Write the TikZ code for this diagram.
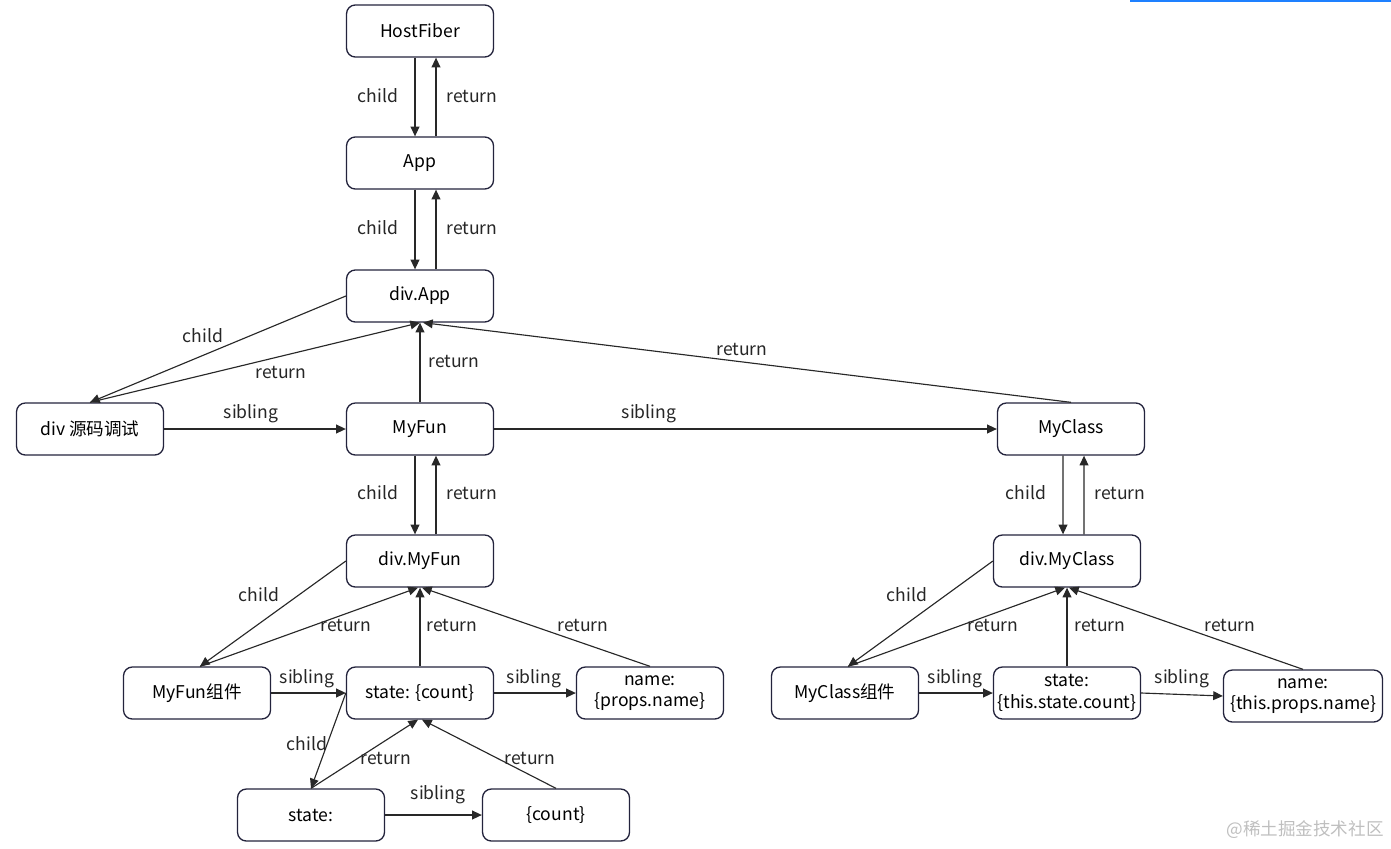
\documentclass[tikz,border=0pt]{standalone}
\usepackage{fontspec}
\setmainfont{Noto Sans CJK SC}
\usetikzlibrary{arrows.meta}
\definecolor{boxline}{RGB}{35,35,60}
\definecolor{edgeline}{RGB}{40,40,40}
\definecolor{topbar}{RGB}{30,128,255}
\tikzset{
  fiber/.style={draw=boxline, line width=0.75pt, rounded corners=5pt, minimum width=2.94cm,
    minimum height=1.04cm, align=center, inner sep=1pt, font=\fontsize{10}{12.3}\selectfont},
  link/.style={draw=edgeline, line width=0.65pt, -{Triangle[length=5.5pt,width=5pt]}},
  lbl/.style={font=\fontsize{10}{12}\selectfont, text=black!85, inner sep=0pt}
}
\begin{document}
\begin{tikzpicture}[x=0.02cm, y=-0.02cm, line join=round]
  \useasboundingbox (0,0) rectangle (1391,848);
  \draw[topbar, line width=1.2pt] (1130,0.5) -- (1391,0.5);

  % fiber nodes
  \node[fiber] (host) at (420,31) {HostFiber};
  \node[fiber] (app) at (420,163) {App};
  \node[fiber] (divapp) at (420,296) {div.App};
  \node[fiber] (divsrc) at (90,429) {div 源码调试};
  \node[fiber] (myfun) at (420,429) {MyFun};
  \node[fiber] (myclass) at (1071,429) {MyClass};
  \node[fiber] (divfun) at (420,561) {div.MyFun};
  \node[fiber] (divclass) at (1067,561) {div.MyClass};
  \node[fiber] (funcomp) at (197,693) {MyFun组件};
  \node[fiber] (funstate) at (420,693) {state: \{count\}};
  \node[fiber] (funname) at (650,693) {name:\\\{props.name\}};
  \node[fiber] (classcomp) at (845,693) {MyClass组件};
  \node[fiber] (classstate) at (1067,693) {state:\\\{this.state.count\}};
  \node[fiber, minimum width=3.18cm] (classname) at (1303,696) {name:\\\{this.props.name\}};
  \node[fiber] (statekey) at (311,815) {state:};
  \node[fiber] (stateval) at (556,815) {\{count\}};

  % child / return pairs
  \draw[link] ([xshift=-0.1cm]host.south) -- ([xshift=-0.1cm]app.north);
  \draw[link] ([xshift=0.32cm]app.north) -- ([xshift=0.32cm]host.south);
  \draw[link] ([xshift=-0.1cm]app.south) -- ([xshift=-0.1cm]divapp.north);
  \draw[link] ([xshift=0.32cm]divapp.north) -- ([xshift=0.32cm]app.south);
  \draw[link] (divapp.west) -- (divsrc.north);
  \draw[link] (divsrc.north) -- (divapp.south);
  \draw[link] (myfun.north) -- (divapp.south);
  \draw[link] (myclass.north) -- ([xshift=0.06cm]divapp.south);
  \draw[link] ([xshift=-0.1cm]myfun.south) -- ([xshift=-0.1cm]divfun.north);
  \draw[link] ([xshift=0.32cm]divfun.north) -- ([xshift=0.32cm]myfun.south);
  \draw[link] ([xshift=-0.16cm]myclass.south) -- ([xshift=-0.08cm]divclass.north);
  \draw[link] ([xshift=0.34cm]divclass.north) -- ([xshift=0.26cm]myclass.south);
  \draw[link] (divfun.west) -- ([xshift=0.06cm]funcomp.north);
  \draw[link] ([xshift=0.06cm]funcomp.north) -- ([xshift=-0.04cm]divfun.south);
  \draw[link] (funstate.north) -- (divfun.south);
  \draw[link] (funname.north) -- ([xshift=0.04cm]divfun.south);
  \draw[link] (funstate.west) -- (statekey.north);
  \draw[link] (statekey.north) -- ([xshift=-0.04cm]funstate.south);
  \draw[link] (stateval.north) -- ([xshift=0.04cm]funstate.south);
  \draw[link] (divclass.west) -- ([xshift=0.06cm]classcomp.north);
  \draw[link] ([xshift=0.06cm]classcomp.north) -- ([xshift=-0.04cm]divclass.south);
  \draw[link] (classstate.north) -- (divclass.south);
  \draw[link] (classname.north) -- ([xshift=0.04cm]divclass.south);

  % siblings
  \draw[link] (divsrc.east) -- (myfun.west);
  \draw[link] (myfun.east) -- (myclass.west);
  \draw[link] (funcomp.east) -- (funstate.west);
  \draw[link] (funstate.east) -- (funname.west);
  \draw[link] (statekey.east) -- (stateval.west);
  \draw[link] (classcomp.east) -- (classstate.west);
  \draw[link] (classstate.east) -- (classname.west);

  % labels
  \node[lbl] (l1) at (378,96) {child};
  \node[lbl] (l2) at (472,96) {return};
  \node[lbl] (l3) at (378,228) {child};
  \node[lbl] (l4) at (472,228) {return};
  \node[lbl] (l5) at (203,336) {child};
  \node[lbl] (l6) at (281,372) {return};
  \node[lbl] (l7) at (251,414) {sibling};
  \node[lbl] (l8) at (454,361) {return};
  \node[lbl] (l9) at (742,349) {return};
  \node[lbl] (l10) at (649,414) {sibling};
  \node[lbl] (l11) at (378,493) {child};
  \node[lbl] (l12) at (472,493) {return};
  \node[lbl] (l13) at (1026,493) {child};
  \node[lbl] (l14) at (1120,493) {return};
  \node[lbl] (l15) at (259,595) {child};
  \node[lbl] (l16) at (346,625) {return};
  \node[lbl] (l17) at (452,625) {return};
  \node[lbl] (l18) at (583,625) {return};
  \node[lbl] (l19) at (307,679) {sibling};
  \node[lbl] (l20) at (534,679) {sibling};
  \node[lbl] (l21) at (307,744) {child};
  \node[lbl] (l22) at (386,758) {return};
  \node[lbl] (l23) at (530,758) {return};
  \node[lbl] (l24) at (438,795) {sibling};
  \node[lbl] (l25) at (907,595) {child};
  \node[lbl] (l26) at (993,625) {return};
  \node[lbl] (l27) at (1100,625) {return};
  \node[lbl] (l28) at (1230,625) {return};
  \node[lbl] (l29) at (955,679) {sibling};
  \node[lbl] (l30) at (1182,679) {sibling};

  \node[lbl, text=black!25] (mark) at (1305,830) {@稀土掘金技术社区};
\end{tikzpicture}
\end{document}
